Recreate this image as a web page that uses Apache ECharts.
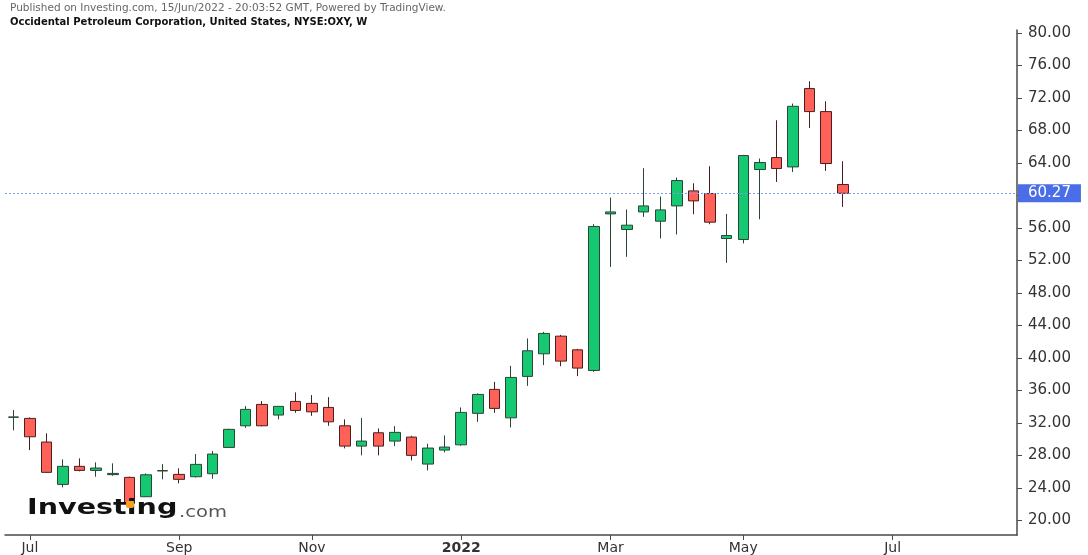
<!DOCTYPE html>
<html>
<head>
<meta charset="utf-8">
<script src="https://cdn.jsdelivr.net/npm/echarts@6/dist/echarts.min.js"></script>
<style>html,body{margin:0;padding:0;background:#fff;}#c{width:1088px;height:555px;}</style>
</head>
<body>
<div id="c"></div>
<script>
// Weekly bars (Monday of each week)
const weeks = [
 '2021-06-28','2021-07-05','2021-07-12','2021-07-19','2021-07-26','2021-08-02','2021-08-09','2021-08-16','2021-08-23','2021-08-30',
 '2021-09-06','2021-09-13','2021-09-20','2021-09-27','2021-10-04','2021-10-11','2021-10-18','2021-10-25','2021-11-01','2021-11-08',
 '2021-11-15','2021-11-22','2021-11-29','2021-12-06','2021-12-13','2021-12-20','2021-12-27','2022-01-03','2022-01-10','2022-01-17',
 '2022-01-24','2022-01-31','2022-02-07','2022-02-14','2022-02-21','2022-02-28','2022-03-07','2022-03-14','2022-03-21','2022-03-28',
 '2022-04-04','2022-04-11','2022-04-18','2022-04-25','2022-05-02','2022-05-09','2022-05-16','2022-05-23','2022-05-30','2022-06-06',
 '2022-06-13','2022-06-20','2022-06-27','2022-07-04','2022-07-11','2022-07-18','2022-07-25','2022-08-01','2022-08-08','2022-08-15',
 '2022-08-22'
];
const opens  = [32.70,32.57,29.66,24.45,26.67,26.17,25.65,25.31,22.93,26.10,25.68,25.39,25.76,29.00,31.66,34.29,32.98,34.66,34.42,33.92,
                31.66,29.16,30.80,29.78,30.27,26.95,28.67,29.32,33.19,36.14,32.64,37.74,40.52,42.69,41.01,38.47,57.74,55.82,57.98,56.84,
                58.72,60.57,60.25,54.71,54.59,63.20,64.67,63.52,73.16,70.33,61.35];
const closes = [32.75,30.31,25.93,26.67,26.17,26.46,25.80,22.12,25.63,26.15,25.07,26.91,28.18,31.22,33.68,31.66,34.05,33.55,33.38,32.15,
                29.16,29.78,29.16,30.85,28.02,28.92,29.04,33.31,35.52,33.80,37.61,40.89,43.03,39.62,38.76,56.19,57.98,56.35,58.72,58.23,
                61.84,59.34,56.72,55.08,64.92,64.06,63.32,70.98,70.33,63.94,60.27];
const lows   = [31.10,28.67,25.90,24.08,26.05,25.39,25.51,21.90,22.90,25.07,24.58,25.30,25.14,28.95,31.41,31.60,32.45,33.26,32.89,31.66,
                28.88,28.02,28.02,29.16,27.40,26.17,28.39,29.20,32.15,33.26,31.46,36.58,39.13,39.00,37.77,38.30,51.22,52.45,57.37,54.71,
                55.20,57.70,56.47,51.71,54.10,57.08,61.67,62.90,68.31,63.03,58.60];
const highs  = [33.60,32.69,30.73,27.53,27.65,27.16,27.04,25.40,25.80,26.95,26.42,28.18,28.55,31.30,34.08,34.70,34.10,35.77,35.44,35.19,
                32.45,32.61,31.34,31.62,30.43,29.45,30.48,33.92,35.65,37.07,39.04,42.41,43.22,42.85,41.13,56.47,59.75,58.28,63.36,59.88,
                62.21,61.51,63.60,57.74,65.00,64.55,69.26,71.32,74.06,71.60,64.22];
const lastPrice = 60.27;
const yTickValues = [20,24,28,32,36,40,44,48,52,56,60,64,68,72,76,80];
const yLabelValues = [20,24,28,32,36,40,44,48,52,56,64,68,72,76,80];
const xTickIndex = [1,10,18,27,36,44,53];
const xTickText  = ['Jul','Sep','Nov','2022','Mar','May','Jul'];

const ohlc = opens.map((o,i)=>[o, closes[i], lows[i], highs[i]]);

const chart = echarts.init(document.getElementById('c'), null, {renderer:'canvas'});
const FONT = '"DejaVu Sans", sans-serif';
chart.setOption({
  animation:false,
  backgroundColor:'#ffffff',
  grid:{left:5, right:71, top:30, bottom:20, containLabel:false},
  xAxis:{
    type:'category', data:weeks, boundaryGap:true,
    axisLine:{show:true, lineStyle:{color:'#4a4a4a', width:1.5}},
    axisTick:{show:true, alignWithLabel:true, length:5, lineStyle:{color:'#4a4a4a'},
      interval:(i)=>xTickIndex.indexOf(i)>=0},
    axisLabel:{show:true, margin:6, color:'#333', fontFamily:FONT, fontSize:14,
      interval:(i)=>xTickIndex.indexOf(i)>=0,
      formatter:(v,i)=>{const k=xTickIndex.indexOf(i); if(k<0) return ''; const t=xTickText[k]; return /^\d{4}$/.test(t)?'{b|'+t+'}':t;},
      rich:{b:{fontWeight:'bold', color:'#333', fontFamily:FONT, fontSize:14}}},
    splitLine:{show:false}
  },
  yAxis:{
    type:'value', position:'right', min:18.22, max:80.37, scale:true,
    axisLine:{show:true, lineStyle:{color:'#4a4a4a', width:1.5}},
    axisTick:{show:true, length:5, lineStyle:{color:'#4a4a4a'}, customValues:yTickValues},
    axisLabel:{show:true, margin:11, color:'#333', fontFamily:FONT, fontSize:15,
      customValues:yLabelValues, formatter:(v)=>Number(v).toFixed(2)},
    splitLine:{show:false}
  },
  series:[{
    type:'candlestick', data:ohlc, barWidth:11,
    itemStyle:{color:'#16C872', color0:'#FF6158', borderColor:'#2B4636', borderColor0:'#4A1F1D', borderWidth:1},
    markLine:{
      silent:true, symbol:['none','none'], animation:false,
      lineStyle:{color:'#7f9cf3', type:[2,2], width:1},
      label:{show:true, position:'end', distance:1, formatter:()=>lastPrice.toFixed(2),
        backgroundColor:'#4A6EE8', color:'#fff', fontFamily:FONT, fontSize:15, padding:[2,10,1,10]},
      data:[{yAxis:lastPrice}]
    }
  }],
  graphic:[
    {type:'text', left:10, top:3, z:100, scaleX:1.05, style:{text:'Published on Investing.com, 15/Jun/2022 - 20:03:52 GMT, Powered by TradingView.', font:'10px '+FONT, fill:'#666'}},
    {type:'text', left:10, top:17, z:100, style:{text:'Occidental Petroleum Corporation, United States, NYSE:OXY, W', font:'bold 10px '+FONT, fill:'#111'}},
    {type:'group', left:27, top:497, z:100, children:[
      {type:'text', x:0, y:0, scaleX:1.3, z:100, style:{text:'Investing', font:'bold 22px '+FONT, fill:'#111'}},
      {type:'rect', x:126-27, y:501-497, z:101, shape:{width:8, height:7, r:2}, style:{fill:'#F4A21F'}},
      {type:'text', x:152, y:8, scaleX:1.22, z:100, style:{text:'.com', font:'16px '+FONT, fill:'#555'}}
    ]}
  ]
});
</script>
</body>
</html>
